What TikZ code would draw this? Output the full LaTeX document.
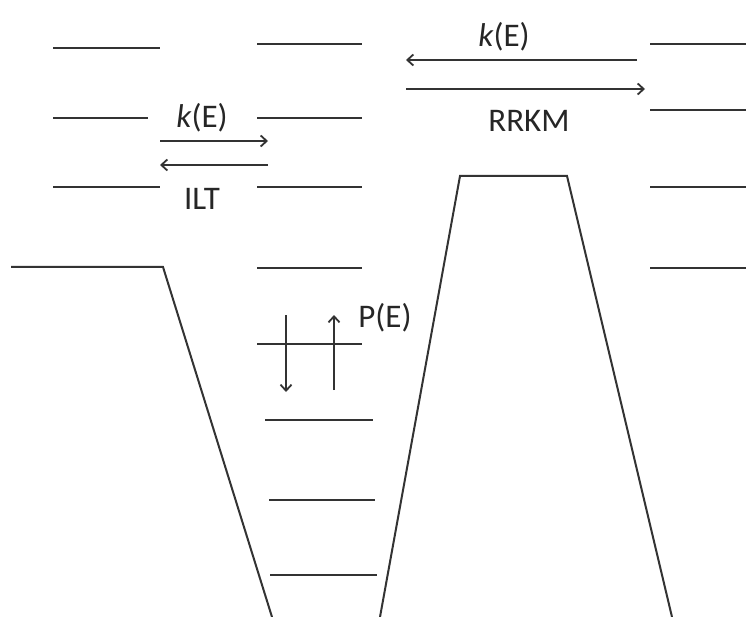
\documentclass[tikz,border=0pt]{standalone}
\usepackage{fontspec}
\setmainfont{Carlito}
\usetikzlibrary{arrows.meta}
\begin{document}
\begin{tikzpicture}[x=1pt,y=-1pt,
  lvl/.style={line width=2pt, draw=black!80},
  wall/.style={line width=2pt, draw=black!80, line join=miter},
  arr/.style={line width=1.8pt, draw=black!80, -{Straight Barb[length=6pt,width=11pt,line width=1.8pt]}},
  lab/.style={font=\fontsize{33}{33}\selectfont, anchor=base, inner sep=0pt, text=black!85}]
\useasboundingbox (0,0) rectangle (746,617);
% left well wall
\draw[wall] (11,267) -- (163,267) -- (272,617);
% barrier
\draw[wall] (380,617) -- (460,176) -- (567,176) -- (672,617);
% left column levels
\draw[lvl] (53,48) -- (160,48);
\draw[lvl] (53,118) -- (148,118);
\draw[lvl] (53,187) -- (160,187);
% middle column levels
\foreach \y in {44,118,187,268,344} \draw[lvl] (257,\y) -- (362,\y);
\draw[lvl] (265,420) -- (373,420);
\draw[lvl] (269,500) -- (375,500);
\draw[lvl] (270,575) -- (377,575);
% right column levels
\foreach \y in {44,110,187,268} \draw[lvl] (650,\y) -- (746,\y);
% coordinates for arrows
\coordinate (ILa) at (160,141);
\coordinate (ILb) at (268,141);
\coordinate (ILc) at (268,165);
\coordinate (ILd) at (160,165);
\coordinate (RKa) at (637,60);
\coordinate (RKb) at (406,60);
\coordinate (RKc) at (406,89);
\coordinate (RKd) at (645,89);
\coordinate (PDa) at (286,315);
\coordinate (PDb) at (286,392);
\coordinate (PUa) at (334,390);
\coordinate (PUb) at (334,315);
\draw[arr] (ILa) -- (ILb);
\draw[arr] (ILc) -- (ILd);
\draw[arr] (RKa) -- (RKb);
\draw[arr] (RKc) -- (RKd);
\draw[arr] (PDa) -- (PDb);
\draw[arr] (PUa) -- (PUb);
% labels
\node[lab] (kl) at (202,128) {\textit{k}(E)};
\node[lab] (ilt) at (202,210) {ILT};
\node[lab] (kr) at (504,47) {\textit{k}(E)};
\node[lab] (rrkm) at (529,132) {RRKM};
\node[lab] (pe) at (385,327) {P(E)};
\end{tikzpicture}
\end{document}
